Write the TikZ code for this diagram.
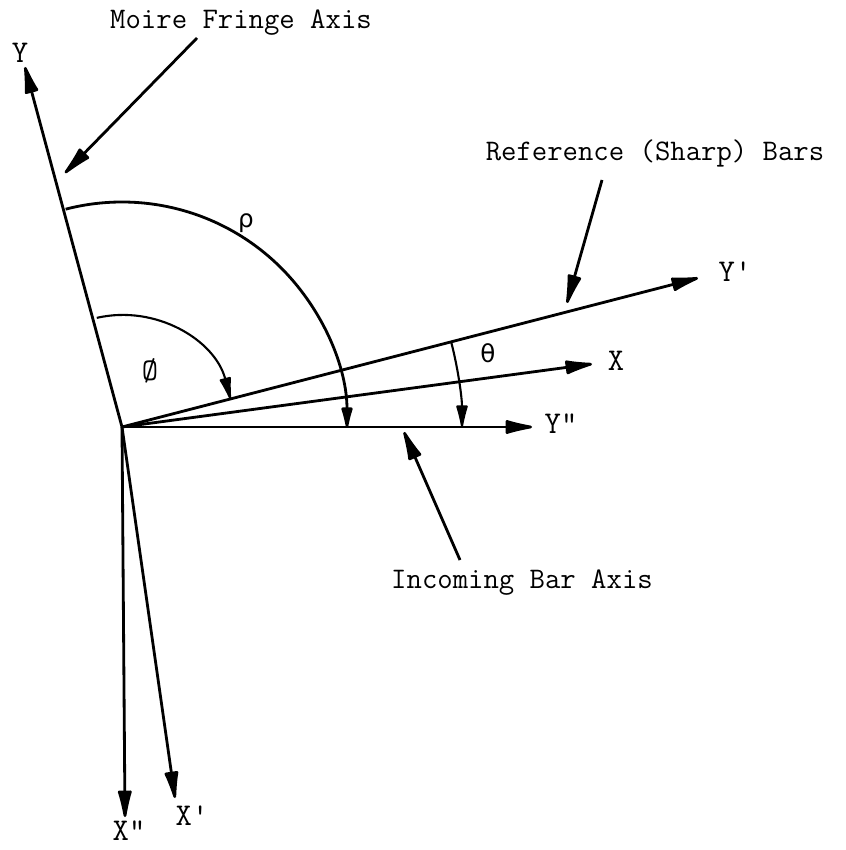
\documentclass[tikz,border=0pt]{standalone}
\usepackage{amsmath,amssymb}
\usepackage{fontspec}
\usepackage{tikz}
\usetikzlibrary{positioning,arrows.meta,calc}
\newfontfamily\gkfont{DejaVu Sans}
\tikzset{
  ax/.style={line width=1.6pt, -{Latex[length=7mm,width=3mm,round]}},
  ang/.style={line width=1.6pt, -{Latex[length=5.5mm,width=2.5mm,round]}},
  lead/.style={line width=1.6pt, -{Latex[length=7.5mm,width=3mm,round]}},
  axl/.style={font=\fontsize{18}{20}\selectfont\ttfamily, inner sep=0pt},
  tag/.style={font=\fontsize{17}{20}\selectfont\ttfamily, inner sep=0pt},
  gk/.style={font=\fontsize{14}{16}\selectfont\gkfont, inner sep=0pt},
}

\begin{document}
\begin{tikzpicture}[x=0.2mm,y=0.2mm]
  \useasboundingbox (-122,-423) rectangle (724,427);
  \coordinate (O) at (0,0);
  \coordinate (yt) at (-97,360);
  \coordinate (ypt) at (576,149);
  \coordinate (xt) at (470,63);
  \coordinate (ydt) at (410,0);
  \coordinate (xdt) at (3,-390);
  \coordinate (xpt) at (53,-371);
  \node[axl] (yl) at (-102,374) {Y};
  \node[axl] (ypl) at (613,155) {Y'};
  \node[axl] (xl) at (494,66) {X};
  \node[axl] (ydl) at (439,3) {Y"};
  \node[axl] (xdl) at (7,-404) {X"};
  \node[axl] (xpl) at (70,-389) {X'};
  \draw[ax] (O) -- (yt);
  \draw[ax] (O) -- (ypt);
  \draw[ax] (O) -- (xt);
  \draw[ax] (O) -- (ydt);
  \draw[ax] (O) -- (xdt);
  \draw[ax] (O) -- (xpt);
  \draw[ang] (O) ++(104.5:45mm) arc[start angle=104.5, end angle=0, radius=45mm];
  \draw[ang, line width=1.2pt] (O) ++(103:22.4mm) arc[start angle=103, end angle=14.5, radius=22.4mm];
  \draw[ang, line width=1.2pt] (O) ++(14.5:68mm) arc[start angle=14.5, end angle=0, radius=68mm];
  \node[gk] (rho) at (124,204) {ρ};
  \node[gk] (phi) at (28,56) {\fontsize{18}{20}\selectfont\ttfamily\O};
  \node[gk] (th) at (366,74) {θ};
  \node[tag] (mfa) at (119,404) {Moire Fringe Axis};
  \node[tag] (rsb) at (533,274) {Reference (Sharp) Bars};
  \node[tag] (iba) at (400,-156) {Incoming Bar Axis};
  \coordinate (mfa-t) at (75,389);
  \coordinate (mfa-h) at (-57,254);
  \coordinate (rsb-t) at (480,247);
  \coordinate (rsb-h) at (445,124);
  \coordinate (iba-t) at (338,-133);
  \coordinate (iba-h) at (282,-5);
  \draw[lead] (mfa-t) -- (mfa-h);
  \draw[lead] (rsb-t) -- (rsb-h);
  \draw[lead] (iba-t) -- (iba-h);
\end{tikzpicture}
\end{document}
